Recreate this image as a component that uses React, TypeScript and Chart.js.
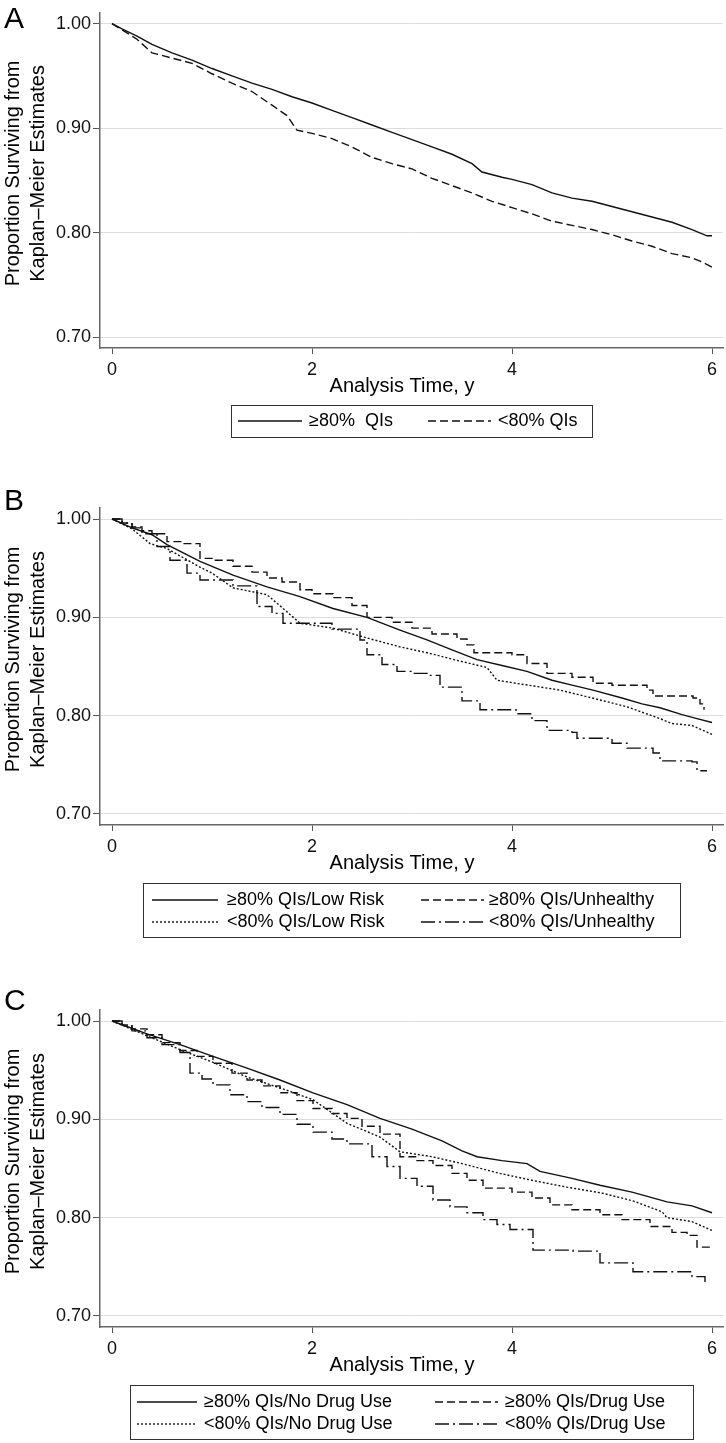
import React, { useEffect, useRef } from "react";
import { Chart, registerables } from "chart.js";

Chart.register(...registerables);

const FONT = '"Liberation Sans", Arial, sans-serif';

// ---- shared axis data ----
const xTickValues = [0, 2, 4, 6];
const yTickValues = [0.7, 0.8, 0.9, 1.0];
const yTitleLines = ["Proportion Surviving from", "Kaplan\u2013Meier Estimates"];
const xTitle = "Analysis Time, y";

// ---- Panel A ----
const aLabels = ["\u226580%  QIs", "<80% QIs"];
const aHighTime = [0, 0.1, 0.25, 0.4, 0.6, 0.8, 1.0, 1.2, 1.4, 1.6, 1.8, 2.0, 2.2, 2.4, 2.6, 2.8, 3.0, 3.2, 3.4, 3.6, 3.7, 3.9, 4.0, 4.2, 4.4, 4.6, 4.8, 5.0, 5.2, 5.4, 5.6, 5.8, 5.95, 6.0];
const aHighSurv = [1.0, 0.995, 0.988, 0.98, 0.972, 0.965, 0.957, 0.95, 0.943, 0.937, 0.93, 0.924, 0.917, 0.91, 0.903, 0.896, 0.889, 0.882, 0.875, 0.866, 0.858, 0.853, 0.851, 0.846, 0.838, 0.833, 0.83, 0.825, 0.82, 0.815, 0.81, 0.803, 0.797, 0.797];
const aLowTime = [0, 0.1, 0.25, 0.4, 0.6, 0.8, 1.0, 1.2, 1.4, 1.6, 1.75, 1.85, 2.0, 2.2, 2.4, 2.6, 2.8, 3.0, 3.2, 3.4, 3.6, 3.8, 4.0, 4.2, 4.4, 4.6, 4.8, 5.0, 5.2, 5.4, 5.6, 5.8, 5.9, 6.0];
const aLowSurv = [1.0, 0.994, 0.985, 0.972, 0.967, 0.962, 0.952, 0.943, 0.935, 0.922, 0.912, 0.898, 0.895, 0.89, 0.882, 0.872, 0.866, 0.861, 0.852, 0.845, 0.838, 0.83, 0.824, 0.818, 0.811, 0.807, 0.803, 0.798, 0.792, 0.787, 0.78, 0.776, 0.772, 0.767];

// ---- Panel B ----
const bLabels = ["\u226580% QIs/Low Risk", "\u226580% QIs/Unhealthy", "<80% QIs/Low Risk", "<80% QIs/Unhealthy"];
const bHighLowTime = [0, 0.2, 0.4, 0.55, 0.88, 1.21, 1.55, 1.88, 2.21, 2.55, 2.88, 3.15, 3.4, 3.65, 3.9, 4.15, 4.4, 4.6, 4.81, 5.1, 5.3, 5.48, 5.7, 5.85, 6.0];
const bHighLowSurv = [1.0, 0.991, 0.984, 0.974, 0.957, 0.943, 0.931, 0.921, 0.909, 0.9, 0.887, 0.877, 0.867, 0.857, 0.851, 0.845, 0.836, 0.831, 0.826, 0.818, 0.812, 0.808, 0.801, 0.797, 0.793];
const bHighUnTime = [0, 0.1, 0.2, 0.3, 0.4, 0.55, 0.7, 0.88, 1.0, 1.21, 1.4, 1.55, 1.7, 1.88, 2.0, 2.21, 2.4, 2.55, 2.8, 3.0, 3.2, 3.45, 3.55, 3.62, 4.0, 4.15, 4.35, 4.6, 4.81, 5.0, 5.35, 5.41, 5.81, 5.88, 5.92];
const bHighUnSurv = [1.0, 0.996, 0.992, 0.988, 0.985, 0.977, 0.975, 0.96, 0.958, 0.952, 0.946, 0.94, 0.936, 0.928, 0.924, 0.92, 0.912, 0.9, 0.895, 0.889, 0.883, 0.878, 0.872, 0.864, 0.862, 0.853, 0.843, 0.839, 0.833, 0.831, 0.826, 0.82, 0.818, 0.812, 0.806];
const bLowLowTime = [0, 0.2, 0.38, 0.55, 0.88, 1.0, 1.21, 1.55, 1.7, 1.88, 2.21, 2.55, 2.88, 3.15, 3.5, 3.75, 3.85, 4.1, 4.48, 4.8, 5.15, 5.48, 5.6, 5.8, 6.0];
const bLowLowSurv = [1.0, 0.99, 0.975, 0.97, 0.951, 0.945, 0.93, 0.923, 0.91, 0.894, 0.889, 0.879, 0.87, 0.864, 0.855, 0.849, 0.836, 0.832, 0.826, 0.818, 0.809, 0.797, 0.792, 0.79, 0.781];
const bLowUnTime = [0, 0.1, 0.2, 0.3, 0.45, 0.58, 0.75, 0.88, 1.21, 1.45, 1.6, 1.71, 2.2, 2.48, 2.55, 2.7, 2.85, 3.0, 3.15, 3.28, 3.5, 3.68, 4.04, 4.2, 4.35, 4.6, 4.65, 5.0, 5.15, 5.41, 5.48, 5.8, 5.85, 5.95];
const bLowUnSurv = [1.0, 0.996, 0.991, 0.985, 0.972, 0.958, 0.945, 0.938, 0.932, 0.911, 0.904, 0.894, 0.888, 0.877, 0.862, 0.852, 0.845, 0.843, 0.841, 0.829, 0.815, 0.806, 0.802, 0.795, 0.785, 0.783, 0.777, 0.772, 0.767, 0.762, 0.754, 0.753, 0.744, 0.744];

// ---- Panel C ----
const cLabels = ["\u226580% QIs/No Drug Use", "\u226580% QIs/Drug Use", "<80% QIs/No Drug Use", "<80% QIs/Drug Use"];
const cHighNoTime = [0, 0.35, 0.68, 1.01, 1.35, 1.68, 2.01, 2.35, 2.68, 3.0, 3.3, 3.5, 3.65, 3.9, 4.15, 4.28, 4.6, 4.88, 5.2, 5.55, 5.8, 6.0];
const cHighNoSurv = [1.0, 0.987, 0.976, 0.964, 0.952, 0.94, 0.927, 0.915, 0.901, 0.89, 0.878, 0.868, 0.862, 0.858, 0.855, 0.847, 0.84, 0.833, 0.826, 0.816, 0.812, 0.805];
const cHighDrugTime = [0, 0.1, 0.2, 0.35, 0.5, 0.68, 0.85, 1.01, 1.2, 1.35, 1.5, 1.68, 1.85, 2.01, 2.2, 2.35, 2.5, 2.68, 2.88, 3.05, 3.21, 3.4, 3.55, 3.71, 4.0, 4.2, 4.38, 4.6, 4.88, 5.1, 5.38, 5.6, 5.75, 5.85, 6.0];
const cHighDrugSurv = [1.0, 0.996, 0.992, 0.986, 0.978, 0.97, 0.964, 0.957, 0.947, 0.94, 0.934, 0.927, 0.919, 0.911, 0.906, 0.901, 0.893, 0.885, 0.862, 0.858, 0.853, 0.845, 0.838, 0.83, 0.826, 0.82, 0.813, 0.808, 0.803, 0.798, 0.791, 0.785, 0.782, 0.77, 0.77];
const cLowNoTime = [0, 0.35, 0.7, 1.01, 1.35, 1.68, 2.01, 2.35, 2.68, 2.88, 3.2, 3.5, 3.88, 4.2, 4.55, 4.9, 5.21, 5.5, 5.55, 5.8, 6.0];
const cLowNoSurv = [1.0, 0.985, 0.97, 0.958, 0.943, 0.932, 0.92, 0.896, 0.882, 0.867, 0.862, 0.855, 0.845, 0.838, 0.831, 0.825, 0.817, 0.806, 0.8, 0.796, 0.787];
const cLowDrugTime = [0, 0.1, 0.2, 0.35, 0.5, 0.68, 0.78, 0.9, 1.01, 1.18, 1.35, 1.5, 1.68, 1.85, 2.01, 2.2, 2.35, 2.6, 2.75, 2.88, 3.05, 3.21, 3.38, 3.55, 3.71, 3.85, 3.98, 4.21, 4.61, 4.88, 5.21, 5.71, 5.8, 5.93];
const cLowDrugSurv = [1.0, 0.995, 0.99, 0.983, 0.976, 0.968, 0.947, 0.941, 0.935, 0.925, 0.918, 0.912, 0.905, 0.895, 0.887, 0.88, 0.875, 0.862, 0.852, 0.84, 0.832, 0.818, 0.811, 0.805, 0.798, 0.793, 0.788, 0.767, 0.766, 0.754, 0.745, 0.745, 0.74, 0.733];

// ---- styles ----
const SOLID: number[] = [];
const DASHED = [8, 4];
const DOTTED = [2, 2];
const DASHDOT = [14, 4, 2, 4];

const pts = (t: number[], s: number[]) => t.map((x, i) => ({ x, y: s[i] }));

type Series = { label: string; times: number[]; surv: number[]; dash: number[]; step: boolean };
type LegendItem = { x0: number; x1: number; tx: number; y: number };
type Panel = {
  top: number;
  height: number;
  letter: string;
  letterY: number;
  chartTop: number;
  chartBottom: number;
  yMin: number;
  yMax: number;
  series: Series[];
  legend: { left: number; top: number; right: number; bottom: number; items: LegendItem[] };
};

const panels: Panel[] = [
  {
    top: 0,
    height: 455,
    letter: "A",
    letterY: 5,
    chartTop: 7,
    chartBottom: 348,
    yMin: 0.6897,
    yMax: 1.0103,
    series: [
      { label: aLabels[0], times: aHighTime, surv: aHighSurv, dash: SOLID, step: false },
      { label: aLabels[1], times: aLowTime, surv: aLowSurv, dash: DASHED, step: false },
    ],
    legend: {
      left: 231, top: 405, right: 592, bottom: 437,
      items: [
        { x0: 238, x1: 302, tx: 309, y: 421 },
        { x0: 428, x1: 491, tx: 498, y: 421 },
      ],
    },
  },
  {
    top: 455,
    height: 500,
    letter: "B",
    letterY: 487,
    chartTop: 508,
    chartBottom: 825,
    yMin: 0.6888,
    yMax: 1.0112,
    series: [
      { label: bLabels[0], times: bHighLowTime, surv: bHighLowSurv, dash: SOLID, step: false },
      { label: bLabels[1], times: bHighUnTime, surv: bHighUnSurv, dash: DASHED, step: true },
      { label: bLabels[2], times: bLowLowTime, surv: bLowLowSurv, dash: DOTTED, step: false },
      { label: bLabels[3], times: bLowUnTime, surv: bLowUnSurv, dash: DASHDOT, step: true },
    ],
    legend: {
      left: 143, top: 883, right: 680, bottom: 937,
      items: [
        { x0: 152, x1: 218, tx: 227, y: 900 },
        { x0: 421, x1: 484, tx: 489, y: 900 },
        { x0: 152, x1: 218, tx: 227, y: 922 },
        { x0: 421, x1: 484, tx: 489, y: 922 },
      ],
    },
  },
  {
    top: 955,
    height: 488,
    letter: "C",
    letterY: 987,
    chartTop: 1010,
    chartBottom: 1327,
    yMin: 0.6888,
    yMax: 1.0112,
    series: [
      { label: cLabels[0], times: cHighNoTime, surv: cHighNoSurv, dash: SOLID, step: false },
      { label: cLabels[1], times: cHighDrugTime, surv: cHighDrugSurv, dash: DASHED, step: true },
      { label: cLabels[2], times: cLowNoTime, surv: cLowNoSurv, dash: DOTTED, step: false },
      { label: cLabels[3], times: cLowDrugTime, surv: cLowDrugSurv, dash: DASHDOT, step: true },
    ],
    legend: {
      left: 130, top: 1385, right: 693, bottom: 1439,
      items: [
        { x0: 137, x1: 197, tx: 204, y: 1402 },
        { x0: 435, x1: 498, tx: 505, y: 1402 },
        { x0: 137, x1: 197, tx: 204, y: 1424 },
        { x0: 435, x1: 498, tx: 505, y: 1424 },
      ],
    },
  },
];

const decorPlugin = {
  id: "decor",
  afterDraw(chart: any, _args: any, opts: any) {
    const ctx: CanvasRenderingContext2D = chart.ctx;
    const ca = chart.chartArea;
    const off = opts.pageTop;
    ctx.save();
    ctx.fillStyle = "#000";
    // panel letter
    ctx.font = `30px ${FONT}`;
    ctx.textAlign = "left";
    ctx.textBaseline = "top";
    ctx.fillText(opts.letter, 4, opts.letterY - off);
    // y title (two rotated lines)
    ctx.font = `20px ${FONT}`;
    ctx.textAlign = "center";
    ctx.textBaseline = "middle";
    const cy = (ca.top + ca.bottom) / 2 - 7;
    const xs = [13, 38];
    yTitleLines.forEach((line, i) => {
      ctx.save();
      ctx.translate(xs[i], cy);
      ctx.rotate(-Math.PI / 2);
      ctx.fillText(line, 0, 0);
      ctx.restore();
    });
    // x title
    ctx.fillText(xTitle, 402, ca.bottom + 38);
    // legend
    const L = opts.legend;
    ctx.strokeStyle = "#333";
    ctx.lineWidth = 1;
    ctx.strokeRect(L.left + 0.5, L.top - off + 0.5, L.right - L.left, L.bottom - L.top);
    chart.data.datasets.forEach((ds: any, i: number) => {
      const it = L.items[i];
      ctx.beginPath();
      ctx.setLineDash(ds.borderDash || []);
      ctx.lineWidth = ds.borderWidth;
      ctx.strokeStyle = ds.borderColor;
      ctx.moveTo(it.x0, it.y - off);
      ctx.lineTo(it.x1, it.y - off);
      ctx.stroke();
      ctx.setLineDash([]);
      ctx.font = `18px ${FONT}`;
      ctx.textAlign = "left";
      ctx.textBaseline = "middle";
      ctx.fillStyle = "#000";
      ctx.fillText(ds.label, it.tx, it.y - off);
    });
    ctx.restore();
  },
};

function PanelChart({ p }: { p: Panel }) {
  const ref = useRef<HTMLCanvasElement | null>(null);
  useEffect(() => {
    if (!ref.current) return;
    const chart = new Chart(ref.current, {
      type: "line",
      data: {
        datasets: p.series.map((s) => ({
          label: s.label,
          data: pts(s.times, s.surv),
          borderColor: "#111",
          borderWidth: 1.4,
          borderDash: s.dash,
          pointRadius: 0,
          stepped: s.step ? ("before" as const) : false,
          tension: 0,
          fill: false,
        })),
      },
      options: {
        responsive: false,
        animation: false,
        events: [],
        layout: { padding: { top: p.chartTop - p.top, right: 3, left: 0, bottom: 0 } },
        plugins: {
          legend: { display: false },
          tooltip: { enabled: false },
          decor: {
            pageTop: p.top,
            letter: p.letter,
            letterY: p.letterY,
            legend: p.legend,
          },
        } as any,
        scales: {
          x: {
            type: "linear",
            min: -0.12,
            max: 6.11,
            afterBuildTicks: (s: any) => {
              s.ticks = xTickValues.map((v) => ({ value: v }));
            },
            afterFit: (s: any) => {
              s.height = p.top + p.height - p.chartBottom;
            },
            grid: { drawOnChartArea: false, tickLength: 6, tickColor: "#555", tickWidth: 1 },
            border: { color: "#666", width: 1.5 },
            ticks: {
              font: { family: FONT, size: 18 },
              color: "#111",
              padding: 5,
              maxRotation: 0,
              callback: (v: any) => String(v),
            },
          },
          y: {
            type: "linear",
            min: p.yMin,
            max: p.yMax,
            afterBuildTicks: (s: any) => {
              s.ticks = yTickValues.map((v) => ({ value: v }));
            },
            afterFit: (s: any) => {
              s.width = 100;
            },
            grid: { color: "#dcdcdc", lineWidth: 1, tickLength: 7, tickColor: "#555", tickWidth: 1 },
            border: { color: "#666", width: 1.5 },
            ticks: {
              font: { family: FONT, size: 18 },
              color: "#111",
              padding: 2,
              callback: (v: any) => Number(v).toFixed(2),
            },
          },
        },
      },
      plugins: [decorPlugin],
    });
    return () => chart.destroy();
  }, [p]);
  return (
    <canvas
      ref={ref}
      width={726}
      height={p.height}
      style={{ position: "absolute", left: 0, top: p.top, width: 726, height: p.height }}
    />
  );
}

export default function App() {
  return (
    <div style={{ position: "absolute", left: 0, top: 0, width: 726, height: 1443, background: "#fff" }}>
      {panels.map((p) => (
        <PanelChart key={p.letter} p={p} />
      ))}
    </div>
  );
}
